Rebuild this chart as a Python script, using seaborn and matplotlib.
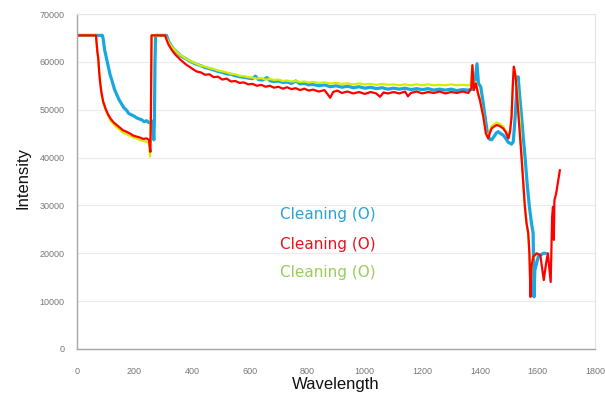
import pandas as pd
import seaborn as sns
import matplotlib.pyplot as plt

# wavelength / intensity, one pair of lists per run
blue_wl = [0, 40, 88, 91, 96, 103, 110, 115, 122, 130, 138, 146, 155, 163, 172, 180, 190, 200,
           207, 215, 225, 233, 242, 250, 258, 262, 265, 267, 269, 271, 273, 290, 311,
           318, 326, 334, 342, 350, 360, 370, 380, 390, 400, 415, 430, 445, 460, 475, 490,
           505, 520, 535, 550, 565, 580, 595, 610, 620, 630, 645, 660, 672, 685, 700, 715,
           730, 745, 760, 775, 790, 805, 820, 840, 860, 880, 900, 920, 940, 960, 980, 1000,
           1020, 1040, 1060, 1080, 1100, 1120, 1140, 1160, 1180, 1200, 1220, 1240, 1260,
           1280, 1300, 1320, 1340, 1360, 1375, 1383, 1390, 1395, 1403, 1410, 1418, 1424,
           1429, 1435, 1441, 1450, 1458, 1464, 1472, 1481, 1490, 1498, 1505, 1510, 1516,
           1522, 1528, 1533, 1538, 1545, 1551, 1557, 1565, 1572, 1580, 1585, 1588, 1591,
           1603, 1620, 1628]
blue_int = [65535, 65535, 65535, 64800, 62500, 60600, 58600, 57300, 56000, 54300, 53200, 52100,
            51200, 50400, 49900, 49200, 48900, 48600, 48300, 48100, 47900, 47500, 47700, 47300,
            47200, 47600, 45000, 43700, 48000, 60000, 65535, 65535, 65535,
            64300, 63500, 62800, 62300, 61900, 61300, 60900, 60600, 60200, 59900, 59500, 59200,
            58800, 58600, 58300, 58000, 57800, 57500, 57400, 57100, 56900, 56800, 56600, 56500,
            57000, 56300, 56200, 56700, 56000, 55900, 56000, 55700, 55800, 55500, 56000, 55400,
            55500, 55200, 55300, 55000, 55200, 54800, 55000, 54700, 54900, 54600, 54800, 54500,
            54700, 54400, 54600, 54300, 54500, 54300, 54500, 54200, 54400, 54200, 54400, 54100,
            54300, 54100, 54300, 54000, 54200, 54100, 54300, 56000, 59600, 55500, 54800, 52000,
            48500, 46000, 44400, 43800, 43700, 44500, 45200, 45400, 45000, 44700, 44000, 43200,
            43000, 42800, 43300, 48000, 54000, 56900, 53000, 48500, 44000, 40000, 34000, 29700,
            26000, 24200, 10900, 16500, 19300, 20000, 20000]

red_wl = [0, 66, 68, 71, 74, 77, 80, 85, 91, 100, 109, 118, 128, 138, 150, 160, 172, 185, 195,
          207, 218, 230, 242, 250, 255, 257, 259, 306,
          312, 318, 326, 334, 342, 350, 360, 370, 380, 390, 400, 415, 430, 445, 460, 475, 490,
          505, 520, 535, 550, 565, 580, 595, 610, 625, 640, 655, 670, 685, 700, 715, 730, 745,
          760, 775, 790, 805, 820, 840, 860, 880, 890, 905, 920, 940, 960, 980, 1000, 1020,
          1040, 1053, 1065, 1080, 1100, 1120, 1140, 1150, 1160, 1180, 1200, 1220, 1240, 1260,
          1280, 1300, 1320, 1340, 1360, 1370, 1374, 1379, 1386, 1393, 1400, 1406, 1412, 1421,
          1429, 1435, 1441, 1450, 1458, 1468, 1481, 1490, 1499, 1505, 1510, 1515, 1518, 1524,
          1530, 1535, 1540, 1546, 1551, 1556, 1562, 1568, 1572, 1576, 1579, 1586, 1597, 1610,
          1622, 1630, 1636, 1646, 1651, 1654, 1657, 1659, 1665, 1678]
red_int = [65535, 65535, 64000, 62000, 60700, 58000, 55900, 53600, 51700, 50100, 48900, 48000,
           47300, 46800, 46200, 45700, 45400, 45000, 44600, 44400, 44200, 43900, 44000, 43700,
           41200, 50000, 65535, 65535,
           64500, 63600, 62800, 62100, 61500, 61000, 60400, 59900, 59400, 59000, 58600, 58000,
           57800, 57300, 57400, 56800, 56900, 56300, 56500, 55900, 56000, 55600, 55700, 55300,
           55400, 55000, 55200, 54800, 55000, 54600, 54800, 54400, 54700, 54300, 54500, 54100,
           54400, 54000, 54200, 53800, 54100, 52500, 53700, 54000, 53500, 53800, 53400, 53700,
           53300, 53700, 53400, 52700, 53600, 53400, 53700, 53400, 53800, 52800, 53500, 53800,
           53400, 53700, 53500, 53800, 53400, 53700, 53500, 53800, 53500, 54500, 59300, 54100,
           55500, 53500, 52000, 50200, 48500, 45000, 44000, 45200, 46100, 46500, 46800, 46600,
           46100, 45300, 44000, 45500, 48500, 56000, 59000, 57000, 52000, 48000, 44000, 39000,
           34500, 30000, 26300, 24200, 20000, 10900, 17200, 19300, 20000, 19600, 14400, 17900,
           20000, 14000, 27600, 29700, 22800, 31100, 32500, 37400]

yellow_wl = [0, 66, 68, 71, 74, 77, 80, 85, 91, 100, 109, 118, 128, 138, 150, 160, 172, 185,
             195, 207, 218, 230, 242, 250, 254, 257, 259, 306,
             312, 318, 326, 334, 342, 350, 360, 370, 380, 390, 400, 415, 430, 445, 460, 475,
             490, 505, 520, 535, 550, 565, 580, 595, 610, 625, 640, 655, 670, 685, 700, 715,
             730, 745, 760, 775, 790, 805, 820, 840, 860, 880, 900, 920, 940, 960, 980, 1000,
             1020, 1040, 1060, 1080, 1100, 1120, 1140, 1160, 1180, 1200, 1220, 1240, 1260,
             1280, 1300, 1320, 1340, 1360, 1368, 1374, 1379, 1386, 1393, 1400, 1406, 1412,
             1421, 1429, 1435, 1441, 1450, 1458, 1468, 1481, 1490, 1499, 1505, 1510, 1515,
             1518, 1523, 1528, 1534, 1539, 1546, 1551, 1556, 1562, 1568, 1572, 1576, 1579,
             1586, 1597]
yellow_int = [65535, 65535, 64000, 62000, 60500, 57800, 55700, 53400, 51400, 49800, 48600,
              47600, 46900, 46300, 45700, 45200, 44900, 44500, 44200, 44000, 43700, 43500,
              43300, 43000, 40200, 50000, 65535, 65535,
              64900, 64200, 63400, 62800, 62300, 61900, 61400, 61000, 60600, 60300, 60000,
              59600, 59200, 59000, 58700, 58500, 58200, 58000, 57800, 57500, 57400, 57100,
              57000, 56800, 56700, 56500, 56600, 56300, 56400, 56200, 56300, 56000, 56100,
              55900, 56000, 55800, 55900, 55700, 55800, 55600, 55700, 55500, 55600, 55400,
              55500, 55300, 55500, 55300, 55400, 55200, 55400, 55200, 55300, 55100, 55300,
              55100, 55300, 55100, 55300, 55100, 55200, 55100, 55300, 55100, 55200, 55100,
              55300, 59300, 54500, 55800, 53800, 52300, 50500, 48800, 45300, 44200, 45600,
              46600, 47000, 47300, 47100, 46500, 45600, 44300, 45800, 48800, 56000, 58800,
              57300, 55300, 51300, 47800, 39000, 34500, 30000, 26300, 24200, 20000, 10900,
              17000, 19200, 19800]

labels = ["Cleaning (O)", "Cleaning (O)", "Cleaning (O)"]
line_colors = ["#1AA7E0", "#FF0000", "#D2EE00"]
text_colors = ["#2AA2D8", "#E8141C", "#9ACD5C"]

x_ticks = [0, 200, 400, 600, 800, 1000, 1200, 1400, 1600, 1800]
y_ticks = [0, 10000, 20000, 30000, 40000, 50000, 60000, 70000]


def draw_chart():
    sns.set_style("white")
    plt.rcParams["font.family"] = ["Liberation Sans", "DejaVu Sans"]

    fig = plt.figure(figsize=(6.05, 3.98), dpi=100)
    ax = fig.add_axes([77 / 605, 1 - 349 / 398, 518 / 605, 335 / 398])

    runs = [
        (blue_wl, blue_int, line_colors[0], 2.3),
        (yellow_wl, yellow_int, line_colors[2], 1.6),
        (red_wl, red_int, line_colors[1], 1.6),
    ]
    for wl, inten, col, lw in runs:
        df = pd.DataFrame({"Wavelength": wl, "Intensity": inten})
        sns.lineplot(data=df, x="Wavelength", y="Intensity", color=col, linewidth=lw,
                     estimator=None, sort=False, ax=ax)

    ax.set_xlim(0, 1800)
    ax.set_ylim(0, 70000)
    ax.set_xticks(x_ticks)
    ax.set_yticks(y_ticks)
    ax.grid(axis="y", color="#EBEBEB", linewidth=0.8)
    ax.set_axisbelow(True)
    ax.tick_params(axis="both", labelsize=6.5, labelcolor="#777777", color="#A6A6A6",
                   length=3, width=0.8, direction="out", pad=6)
    ax.tick_params(axis="x", pad=10)
    for side in ["left", "bottom"]:
        ax.spines[side].set_color("#A6A6A6")
        ax.spines[side].set_linewidth(1.0)
    for side in ["top", "right"]:
        ax.spines[side].set_visible(True)
        ax.spines[side].set_color("#E4E4E4")
        ax.spines[side].set_linewidth(0.8)

    ax.set_xlabel("Wavelength", fontsize=12, color="#111111")
    ax.set_ylabel("Intensity", fontsize=12, color="#111111")
    ax.xaxis.set_label_coords(0.5, -0.085)
    ax.yaxis.set_label_coords(-0.09, 0.51)

    # hand placed labels in the middle of the plot
    for i, (lab, col) in enumerate(zip(labels, text_colors)):
        fig.text(280 / 605, 1 - (215 + 29 * i) / 398, lab, color=col, fontsize=11,
                 family=["DejaVu Sans"], ha="left", va="center")

    fig.savefig("out.png", dpi=100)


if __name__ == "__main__":
    draw_chart()
